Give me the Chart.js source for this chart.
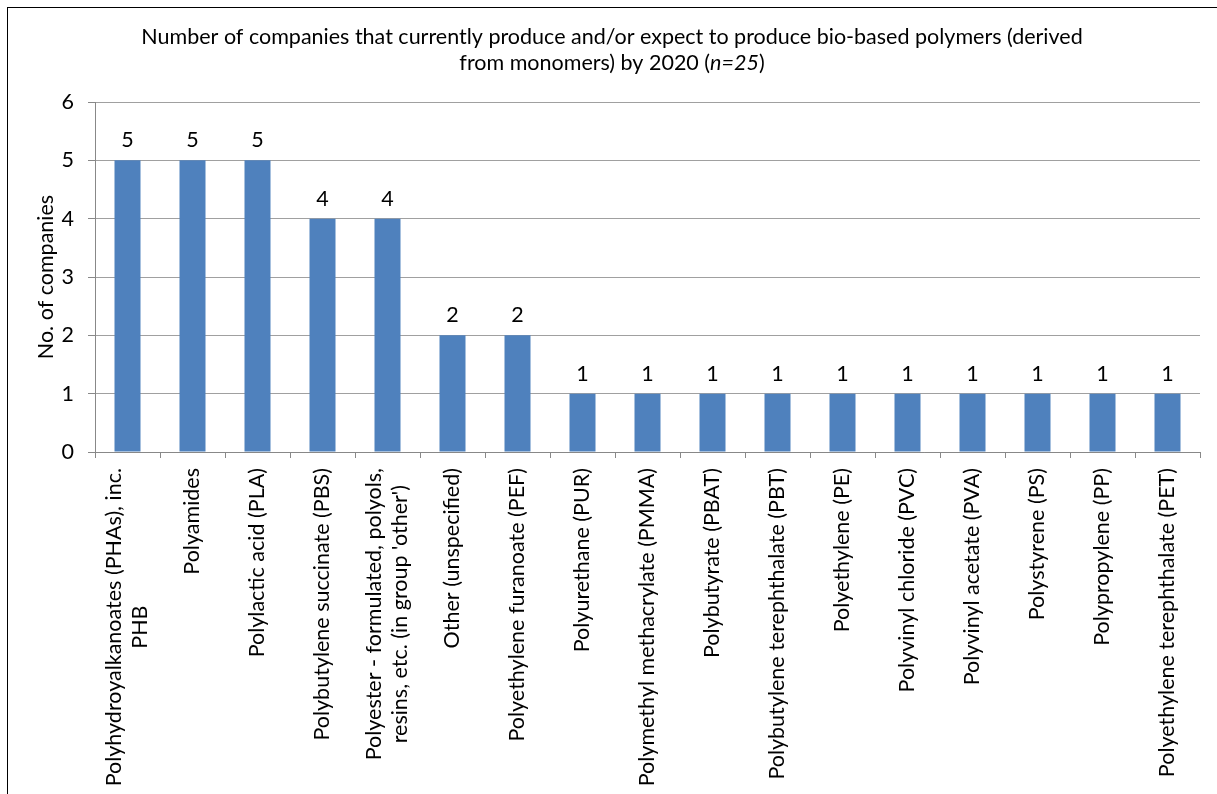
<!DOCTYPE html>
<html>
<head>
<meta charset="utf-8">
<script src="https://cdn.jsdelivr.net/npm/chart.js@4"></script>
<style>
  html, body { margin: 0; padding: 0; background: #fff; }
  #wrap { position: relative; width: 1217px; height: 794px; }
  #frame { position: absolute; left: 7px; top: 7px; right: -10px; bottom: -10px; border-left: 1px solid #000; border-top: 1px solid #000; pointer-events: none; }
</style>
</head>
<body>
<div id="wrap">
  <canvas id="chart" width="1217" height="794"></canvas>
  <div id="frame"></div>
</div>
<script>
const polymers = [
    ['Polyhydroyalkanoates (PHAs), inc.', 'PHB'],
    'Polyamides',
    'Polylactic acid (PLA)',
    'Polybutylene succinate (PBS)',
    ['Polyester - formulated, polyols,', 'resins, etc. (in group \'other\')'],
    'Other (unspecified)',
    'Polyethylene furanoate (PEF)',
    'Polyurethane (PUR)',
    'Polymethyl methacrylate (PMMA)',
    'Polybutyrate (PBAT)',
    'Polybutylene terephthalate (PBT)',
    'Polyethylene (PE)',
    'Polyvinyl chloride (PVC)',
    'Polyvinyl acetate (PVA)',
    'Polystyrene (PS)',
    'Polypropylene (PP)',
    'Polyethylene terephthalate (PET)'
];
const companies = [5, 5, 5, 4, 4, 2, 2, 1, 1, 1, 1, 1, 1, 1, 1, 1, 1];
const yTicks = [0, 1, 2, 3, 4, 5, 6];

const titleLine1 = 'Number of companies that currently produce and/or expect to produce bio-based polymers (derived';
const titleLine2 = ['from monomers) by 2020 (', 'n=25', ')'];

const FONT = 'Lato, "Open Sans", sans-serif';
const SIZE = 21.5;

// two-line title, with the italic sample size
const titlePlugin = {
    id: 'twoLineTitle',
    afterDraw(chart) {
        const ctx = chart.ctx;
        const cx = 612;
        ctx.save();
        ctx.fillStyle = '#000';
        ctx.textBaseline = 'alphabetic';
        ctx.font = SIZE + 'px ' + FONT;
        ctx.textAlign = 'center';
        ctx.fillText(titleLine1, cx, 44);
        const fonts = [SIZE + 'px ' + FONT, 'italic ' + SIZE + 'px ' + FONT, SIZE + 'px ' + FONT];
        let widths = titleLine2.map((t, i) => { ctx.font = fonts[i]; return ctx.measureText(t).width; });
        let x = cx - widths.reduce((a, b) => a + b, 0) / 2;
        ctx.textAlign = 'left';
        titleLine2.forEach((t, i) => {
            ctx.font = fonts[i];
            ctx.fillText(t, x, 70);
            x += widths[i];
        });
        ctx.restore();
    }
};

// value above each bar
const valueLabels = {
    id: 'valueLabels',
    afterDatasetsDraw(chart) {
        const ctx = chart.ctx;
        const meta = chart.getDatasetMeta(0);
        ctx.save();
        ctx.font = SIZE + 'px ' + FONT;
        ctx.fillStyle = '#000';
        ctx.textAlign = 'center';
        ctx.textBaseline = 'alphabetic';
        meta.data.forEach((bar, i) => {
            ctx.fillText(String(companies[i]), bar.x, bar.y - 13);
        });
        ctx.restore();
    }
};

// rotated category labels, lines centred on each other
const categoryLabels = {
    id: 'categoryLabels',
    afterDraw(chart) {
        const ctx = chart.ctx;
        const xs = chart.scales.x;
        const lh = 26;
        ctx.save();
        ctx.font = SIZE + 'px ' + FONT;
        ctx.fillStyle = '#000';
        ctx.textAlign = 'center';
        ctx.textBaseline = 'middle';
        polymers.forEach((lab, i) => {
            const lines = Array.isArray(lab) ? lab : [lab];
            const w = Math.max(...lines.map(l => ctx.measureText(l).width));
            ctx.save();
            ctx.translate(xs.getPixelForTick(i), xs.top + 16);
            ctx.rotate(-Math.PI / 2);
            lines.forEach((l, j) => {
                ctx.fillText(l, -w / 2, (j - (lines.length - 1) / 2) * lh);
            });
            ctx.restore();
        });
        ctx.restore();
    }
};

const ctx = document.getElementById('chart').getContext('2d');
new Chart(ctx, {
    type: 'bar',
    data: {
        labels: polymers,
        datasets: [{
            data: companies,
            backgroundColor: '#4F81BD',
            borderWidth: 0,
            categoryPercentage: 1,
            barPercentage: 0.4
        }]
    },
    options: {
        responsive: false,
        animation: false,
        layout: { padding: { left: 30, right: 17, top: 102, bottom: 0 } },
        plugins: {
            legend: { display: false },
            title: { display: false },
            tooltip: { enabled: false }
        },
        scales: {
            x: {
                afterFit(scale) { scale.height = 342; },
                grid: {
                    offset: true,
                    drawOnChartArea: false,
                    drawTicks: true,
                    tickLength: 6,
                    color: '#888'
                },
                border: { color: '#888', width: 1 },
                ticks: { display: false }
            },
            y: {
                min: 0,
                max: 6,
                afterFit(scale) { scale.width = 65; },
                afterBuildTicks(scale) { scale.ticks = yTicks.map(v => ({ value: v })); },
                grid: {
                    color: '#a0a0a0',
                    tickLength: 7,
                    tickColor: '#888'
                },
                border: { color: '#888', width: 1 },
                ticks: {
                    color: '#000',
                    padding: 14,
                    font: { family: FONT, size: SIZE }
                },
                title: {
                    display: true,
                    text: 'No. of companies',
                    color: '#000',
                    padding: { top: 3, bottom: 4 },
                    font: { family: FONT, size: SIZE }
                }
            }
        }
    },
    plugins: [titlePlugin, valueLabels, categoryLabels]
});
</script>
</body>
</html>
